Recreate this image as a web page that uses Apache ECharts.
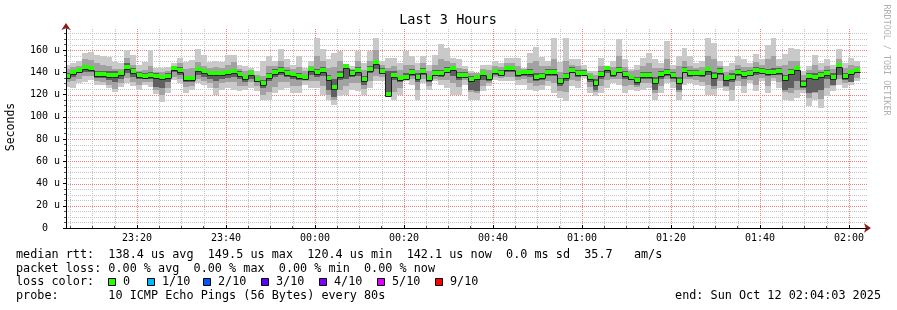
<!DOCTYPE html>
<html><head><meta charset="utf-8">
<script src="https://cdn.jsdelivr.net/npm/echarts@6/dist/echarts.min.js"></script>
<style>html,body{margin:0;padding:0;background:#fff}#c{width:897px;height:310px}</style>
</head><body><div id="c"></div>
<script>
// ---- time layout (seconds after 23:00:00, Oct 11 2025) ----
const stepSeconds = 80;
const firstStepStart = 222;
const axisStart = 243;     // 23:04:03
const axisEnd = 11043;     // 02:04:03
const xTickSeconds = [1200, 2400, 3600, 4800, 6000, 7200, 8400, 9600, 10800];
const xTickLabels = ['23:20', '23:40', '00:00', '00:20', '00:40', '01:00', '01:20', '01:40', '02:00'];
const yTicks = [0, 20, 40, 60, 80, 100, 120, 140, 160];

// ---- data (microseconds) ----
const medianRtt = [
137,140.5,142,144.5,143.5,138.5,138.5,138,138,139,
145,141,137.5,136.5,138,137,135.5,137,144,142.5,
135,135,143,141.5,139,139,139.5,140,141,138.6,
136,139,134.4,130,136.5,140.7,142,139.8,138.3,137,
136,142.9,140,142.3,135.3,127,138,145.9,139.8,142.3,
134.4,143.2,149.5,141.6,120.4,138,134.7,135.6,140,136.2,
141.6,134.7,139.8,139.2,142.3,143.5,138,138,134.4,136.2,
139.2,135.6,141.4,139.2,143.8,143.8,139,140.7,140.4,135.6,
136.8,140.7,140.7,132.6,136.8,142.3,139.5,139.8,135.6,130.5,
138.6,143.5,139,142,138.6,136.2,132.9,137.4,137.7,132,
138.6,140.4,138,132.6,142.3,139,139.8,139,142.6,136.8,
141.4,134.7,136,140,138.3,139.8,142,141.4,140.7,140.7,
141.6,134.7,140.7,143.8,129.3,136.8,136.2,137.7,139.8,136.2,
147,136.6,140,142.1];
const pingMin = [
127,125.5,130.5,131.5,133,128.5,128.5,125.5,122.5,127,
130,127.5,124.5,128.5,127,120.5,113,121,133,130.5,
121,124,130,128.5,125.5,119.5,124,126,124.5,123,
124.5,126,123,115.5,115.5,121.5,124.5,126,121.5,121.5,
129,126,126,120,115.5,111,118.5,120,124.5,123,
120,126,132,132,118.5,115.5,120,132,129,115.5,
130.5,124.5,132,129,126,120,120,129,115.5,115.5,
123,127.5,133.5,132,132,132,129,129,124.5,123,
124.5,127.5,121.5,117,114,127.5,126,135,121.5,118.5,
121.5,126,130.5,129,121.5,124.5,123,124.5,126,115.5,
121.5,130.5,126,115.5,129,130.5,129,127.5,120,120,
126,123,114,127.5,121.5,130.5,123,132,121.5,132,
126,115.5,114,117,121.5,109.5,115.5,108,118.5,123,
129,126,129,132];
const pingMax = [
147,148,150.5,157,158.5,155.5,155,154,149.5,148,
160.5,155.5,146.5,149.5,160,143.5,143.5,145,148,152.5,
149.5,151,161,155.5,149.5,150.5,149.5,156,156,147,
145.6,144,141,150,154.6,150,160.6,151.6,147,154.6,
144,150,170.5,160.6,151.6,157.6,159,147.5,145.6,159,
148.6,159,170.5,150,152.5,153,148.6,159,154.6,148.6,
154.6,147,156,165.7,162,153,151.6,145.6,141,139.5,
147,147,150,148.6,153,153,153,144,157.6,162.7,
154,150,171,149.5,171,151.6,151.6,147,141,141,
153,145.6,150,169.6,151.6,142.6,147,153,157.6,151.6,
148.6,168,147,154.6,162,154.6,148.6,150,171,166.5,
150,145.6,148.6,154.6,151.6,148.6,156.7,151.6,165,171,
151.6,156.7,162,160.6,141,145.6,156,148.6,151.6,147,
160.6,148.6,153,150];
const smokeLo = [
131,132,134,137,137,132,131,129,125,130,
135,131,129,131,131,124,120,126,136,134,
127,128,134,132,130,126,130,131,131,128,
128,131,128,120,122,127,131,131,128,128,
132,132,132,128,120,115,124,128,130,130,
125,132,137,136,122,122,126,133,134,124,
134,128,134,133,133,130,127,133,122,121,
128,130,136,135,136,136,133,134,130,128,
129,132,130,123,122,133,132,137,127,122,
128,133,134,134,128,129,127,130,130,121,
128,134,131,122,134,134,133,131,129,125,
132,127,124,132,128,133,129,135,128,135,
131,122,121,124,124,117,121,116,126,128,
134,130,132,135];
const smokeHi = [
143,145,146,152,151,148,147,146,143,143,
153,147,141,142,146,140,140,141,146,148,
143,144,149,146,144,145,144,147,149,143,
141,142,138,137,146,146,150,145,143,145,
141,146,155,150,144,145,150,147,143,150,
142,150,160,147,144,146,142,147,147,142,
148,141,147,152,150,148,144,143,139,139,
143,142,146,145,148,148,146,143,148,150,
146,146,152,140,150,147,146,143,139,138,
146,145,145,155,145,141,142,146,148,144,
144,152,143,146,150,146,144,145,155,152,
146,140,142,147,145,145,149,147,152,155,
146,147,150,150,138,142,147,142,146,143,
152,144,147,146];
const coreLo = [
134,136,139,140,140,135,135,133,131,134,
139,136,134,134,134,127,126,131,140,138,
131,131,138,136,134,132,134,135,136,134,
131,134,131,126,132,136,138,136,134,133,
134,138,136,137,124,118,133,134,136,137,
129,139,143,139,120.4,133,131,134,137,131,
138,131,137,136,139,137,133,135,124,123,
133,132,138,137,140,140,136,137,136,132,
133,137,137,128,132,139,136,138,131,124,
134,139,136,139,134,133,129,134,134,124,
134,137,134,124,139,136,137,136,138,128,
138,128,131,137,134,137,138,139,137,138,
138,124,126,132,126,121,122,124,134,129,
138,133,131,139];
const coreHi = [
139,142,144,147,146,141,141,141,141,141,
148,144,140,139,140,139,138,139,145,145,
137,137,145,143,141,141,141,142,143,141,
138,141,136,133,139,143,145,142,140,139,
138,145,143,145,138,134,141,147,142,145,
137,146,151,144,141,141,137,139,143,139,
144,137,142,142,145,146,140,140,137,138,
141,138,143,142,146,146,141,142,143,139,
139,143,143,135,139,145,142,142,138,134,
141,145,141,145,141,138,136,140,140,136,
141,143,140,136,145,142,142,141,145,140,
144,137,139,143,141,142,145,144,143,144,
144,138,143,146,133,139,139,140,142,139,
148,139,142,144];

// ---- legend text ----
const statsLine = 'median rtt:  138.4 us avg  149.5 us max  120.4 us min  142.1 us now  0.0 ms sd  35.7   am/s';
const lossLine = 'packet loss: 0.00 % avg  0.00 % max  0.00 % min  0.00 % now';
const probeLine = 'probe:       10 ICMP Echo Pings (56 Bytes) every 80s';
const endLine = 'end: Sun Oct 12 02:04:03 2025';
const lossLabels = ['0', '1/10', '2/10', '3/10', '4/10', '5/10', '9/10'];
const lossColors = ['#26ff00', '#00b8ff', '#0059ff', '#5e00ff', '#7e00ff', '#dd00ff', '#ff0000'];

// ---- build ----
const MONO = '"DejaVu Sans Mono", monospace';
const xMinorTicks = [];
for (let s = 300; s < axisEnd; s += 300) if (s % 1200 !== 0 && s > axisStart) xMinorTicks.push(s);
const yMinorTicks = [];
for (let v = 5; v < 179; v += 5) if (v % 20 !== 0) yMinorTicks.push(v);

const items = medianRtt.map((m, i) => [
  firstStepStart + i * stepSeconds, firstStepStart + (i + 1) * stepSeconds,
  pingMin[i], smokeLo[i], coreLo[i], m, coreHi[i], smokeHi[i], pingMax[i],
  i > 0 ? medianRtt[i - 1] : m
]);

function renderItem(params, api) {
  const xs = Math.round(api.coord([api.value(0), 0])[0]);
  const xe = Math.round(api.coord([api.value(1), 0])[0]);
  const Y = k => Math.round(api.coord([api.value(0), api.value(k)])[1]);
  const w = xe - xs;
  const band = (lo, hi, color) => ({
    type: 'rect', shape: { x: xs, y: Y(hi), width: w, height: Y(lo) - Y(hi) },
    style: { fill: color }
  });
  const ym = Y(5), yp = Y(9);
  return {
    type: 'group', children: [
      band(2, 8, '#c9c9c9'),
      band(3, 7, '#a2a2a2'),
      band(4, 6, '#606060'),
      { type: 'rect', shape: { x: xs, y: ym - 2, width: w, height: 4 }, style: { fill: lossColors[0] } },
      { type: 'polyline', shape: { points: [[xs + 0.5, yp + 2.5], [xs + 0.5, ym + 2.5], [xe + 0.5, ym + 2.5]] },
        style: { stroke: '#1c1c1c', lineWidth: 1, fill: null } }
    ]
  };
}

// grid lines: [x value, y value, kind] kind 0 = vertical minor, 1 = vertical major, 2 = horizontal minor, 3 = horizontal major
const gridItems = [];
xMinorTicks.forEach(v => gridItems.push([v, 0, 0]));
yMinorTicks.forEach(v => gridItems.push([axisStart, v, 2]));
xTickSeconds.forEach(v => gridItems.push([v, 0, 1]));
yTicks.filter(v => v > 0).forEach(v => gridItems.push([axisStart, v, 3]));

function renderGrid(params, api) {
  const cs = params.coordSys;
  const kind = api.value(2);
  const color = (kind === 1 || kind === 3) ? '#ec8080' : '#c4c4c4';
  let shape;
  if (kind < 2) {
    const px = Math.round(api.coord([api.value(0), 0])[0]) + 0.5;
    shape = { x1: px, y1: cs.y, x2: px, y2: cs.y + cs.height };
  } else {
    const py = Math.round(api.coord([axisStart, api.value(1)])[1]) + 0.5;
    shape = { x1: cs.x, y1: py, x2: cs.x + cs.width, y2: py };
  }
  return { type: 'line', shape: shape, style: { stroke: color, lineWidth: 1, lineDash: [1, 1] } };
}

const graphic = [
  { type: 'text', x: 448, y: 20, style: { text: 'Last 3 Hours', font: '13.5px ' + MONO, fill: '#000', align: 'center', verticalAlign: 'middle', textAlign: 'center', textVerticalAlign: 'middle' } },
  { type: 'text', x: 11, y: 127, rotation: Math.PI / 2, style: { text: 'Seconds', font: '11.5px ' + MONO, fill: '#000', align: 'center', verticalAlign: 'middle', textAlign: 'center', textVerticalAlign: 'middle' } },
  { type: 'text', x: 886, y: 60, rotation: -Math.PI / 2, style: { text: 'RRDTOOL / TOBI OETIKER', font: '8.4px ' + MONO, fill: '#b0b0b0', align: 'center', verticalAlign: 'middle', textAlign: 'center', textVerticalAlign: 'middle' } },
  { type: 'text', x: 16, y: 255, style: { text: statsLine, font: '11.8px ' + MONO, fill: '#000', verticalAlign: 'middle', textVerticalAlign: 'middle' } },
  { type: 'text', x: 16, y: 268.5, style: { text: lossLine, font: '11.8px ' + MONO, fill: '#000', verticalAlign: 'middle', textVerticalAlign: 'middle' } },
  { type: 'text', x: 16, y: 282, style: { text: 'loss color:', font: '11.8px ' + MONO, fill: '#000', verticalAlign: 'middle', textVerticalAlign: 'middle' } },
  { type: 'text', x: 16, y: 295.5, style: { text: probeLine, font: '11.8px ' + MONO, fill: '#000', verticalAlign: 'middle', textVerticalAlign: 'middle' } },
  { type: 'text', x: 881, y: 295.5, style: { text: endLine, font: '11.8px ' + MONO, fill: '#000', align: 'right', textAlign: 'right', verticalAlign: 'middle', textVerticalAlign: 'middle' } }
];
const boxX = [108, 147, 203, 261, 319, 377, 435];
lossLabels.forEach((lab, i) => {
  graphic.push({ type: 'rect', shape: { x: boxX[i] + 0.5, y: 278.5, width: 7, height: 7 }, style: { fill: lossColors[i], stroke: '#000', lineWidth: 1 } });
  graphic.push({ type: 'text', x: boxX[i] + 15, y: 282, style: { text: lab, font: '11.8px ' + MONO, fill: '#000', verticalAlign: 'middle', textVerticalAlign: 'middle' } });
});

const chart = echarts.init(document.getElementById('c'), null, { renderer: 'canvas' });
chart.setOption({
  animation: false,
  backgroundColor: '#ffffff',
  grid: { left: 66, right: 30, top: 29, bottom: 82, containLabel: false, outerBoundsMode: 'none' },
  xAxis: [
    { type: 'value', min: axisStart, max: axisEnd, position: 'bottom', z: 3,
      axisLine: { show: true, onZero: false, lineStyle: { color: '#8b1a1a', width: 1 }, symbol: ['none', 'arrow'], symbolSize: [7, 7], symbolOffset: [0, 4] },
      axisTick: { show: true, inside: true, length: 2, customValues: xMinorTicks, lineStyle: { color: '#555' } },
      axisLabel: { show: false },
      splitLine: { show: false } },
    { type: 'value', min: axisStart, max: axisEnd, position: 'bottom', z: 4,
      axisLine: { show: true, onZero: false, lineStyle: { color: '#000', width: 1 } },
      axisTick: { show: true, inside: true, length: 3, customValues: xTickSeconds, lineStyle: { color: '#000' } },
      axisLabel: { show: true, customValues: xTickSeconds, margin: 5, fontFamily: MONO, fontSize: 10, color: '#000',
        formatter: v => xTickLabels[xTickSeconds.indexOf(v)] || '' },
      splitLine: { show: false } }
  ],
  yAxis: [
    { type: 'value', min: 0, max: 179, position: 'left', z: 3,
      axisLine: { show: true, onZero: false, lineStyle: { color: '#8b1a1a', width: 1 }, symbol: ['none', 'arrow'], symbolSize: [7, 7], symbolOffset: [0, 6] },
      axisTick: { show: true, length: 2, customValues: yMinorTicks, lineStyle: { color: '#555' } },
      axisLabel: { show: false },
      splitLine: { show: false } },
    { type: 'value', min: 0, max: 179, position: 'left', z: 4,
      axisLine: { show: true, onZero: false, lineStyle: { color: '#000', width: 1 } },
      axisTick: { show: true, length: 3, customValues: yTicks, lineStyle: { color: '#000' } },
      axisLabel: { show: true, customValues: yTicks, margin: 6, fontFamily: MONO, fontSize: 10, color: '#000',
        formatter: v => v === 0 ? '0  ' : v + ' u' },
      splitLine: { show: false } }
  ],
  series: [
    { type: 'custom', xAxisIndex: 1, yAxisIndex: 1, z: 1, silent: true, clip: true,
      renderItem: renderGrid, encode: { x: 0, y: 1 }, data: gridItems },
    { type: 'custom', xAxisIndex: 1, yAxisIndex: 1, z: 2, clip: true,
      renderItem: renderItem,
      encode: { x: [0, 1], y: [2, 8] },
      data: items }
  ],
  graphic: graphic
});
</script>
</body></html>
